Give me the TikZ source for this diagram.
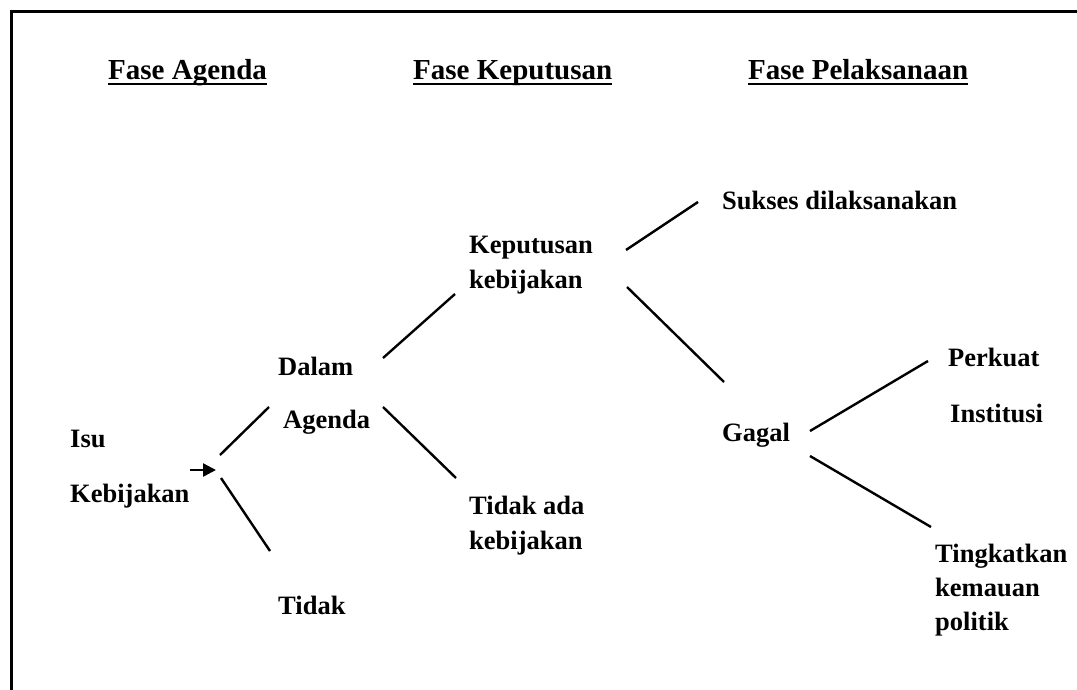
\documentclass[tikz,border=0pt]{standalone}
\usepackage{fontspec}
\setmainfont{Liberation Serif}
\usetikzlibrary{arrows.meta}
\tikzset{
  lbl/.style={anchor=base west, inner sep=0pt, font=\fontsize{26.5}{35}\selectfont\bfseries},
  hdr/.style={anchor=base west, inner sep=0pt, font=\fontsize{29}{35}\selectfont\bfseries},
  conn/.style={line width=2.4pt},
  uline/.style={line width=2.6pt},
  frame/.style={line width=3pt},
}
\begin{document}
\begin{tikzpicture}[x=1pt,y=-1pt]
\useasboundingbox (0,0) rectangle (1077,690);
% frame (left and top edges)
\draw[frame] (11,700) -- (11,12) -- (1090,12);

% headers
\node[hdr] (h1) at (108,80) {Fase Agenda};
\node[hdr] (h2) at (413,80) {Fase Keputusan};
\node[hdr] (h3) at (748,80) {Fase Pelaksanaan};
\foreach \h in {h1,h2,h3}
  \draw[uline] ([yshift=-4pt]\h.base west) -- ([yshift=-4pt]\h.base east);

% labels
\node[lbl] (isu) at (70,447) {Isu};
\node[lbl] (kebijakan) at (70,502) {Kebijakan};
\node[lbl] (dalam) at (278,375) {Dalam};
\node[lbl] (agenda) at (283,428) {Agenda};
\node[lbl] (tidak) at (278,614) {Tidak};
\node[lbl] (kep1) at (469,253) {Keputusan};
\node[lbl] (kep2) at (469,288) {kebijakan};
\node[lbl] (tad1) at (469,514) {Tidak ada};
\node[lbl] (tad2) at (469,549) {kebijakan};
\node[lbl] (sukses) at (722,209) {Sukses dilaksanakan};
\node[lbl] (gagal) at (722,441) {Gagal};
\node[lbl] (perkuat) at (948,366) {Perkuat};
\node[lbl] (institusi) at (950,422) {Institusi};
\node[lbl] (ting1) at (935,562) {Tingkatkan};
\node[lbl] (ting2) at (935,596) {kemauan};
\node[lbl] (ting3) at (935,630) {politik};

% connector end points
\coordinate (a0) at (190,470);
\coordinate (a1) at (216,470);
\coordinate (b0) at (220,455);
\coordinate (b1) at (269,407);
\coordinate (c0) at (221,478);
\coordinate (c1) at (270,551);
\coordinate (d0) at (383,358);
\coordinate (d1) at (455,294);
\coordinate (e0) at (383,407);
\coordinate (e1) at (456,478);
\coordinate (f0) at (626,250);
\coordinate (f1) at (698,202);
\coordinate (g0) at (627,287);
\coordinate (g1) at (724,382);
\coordinate (k0) at (810,431);
\coordinate (k1) at (928,361);
\coordinate (m0) at (810,456);
\coordinate (m1) at (931,527);

\draw[conn,-{Triangle[length=13pt,width=13pt]}] (a0) -- (a1);
\draw[conn] (b0) -- (b1);
\draw[conn] (c0) -- (c1);
\draw[conn] (d0) -- (d1);
\draw[conn] (e0) -- (e1);
\draw[conn] (f0) -- (f1);
\draw[conn] (g0) -- (g1);
\draw[conn] (k0) -- (k1);
\draw[conn] (m0) -- (m1);
\end{tikzpicture}
\end{document}
